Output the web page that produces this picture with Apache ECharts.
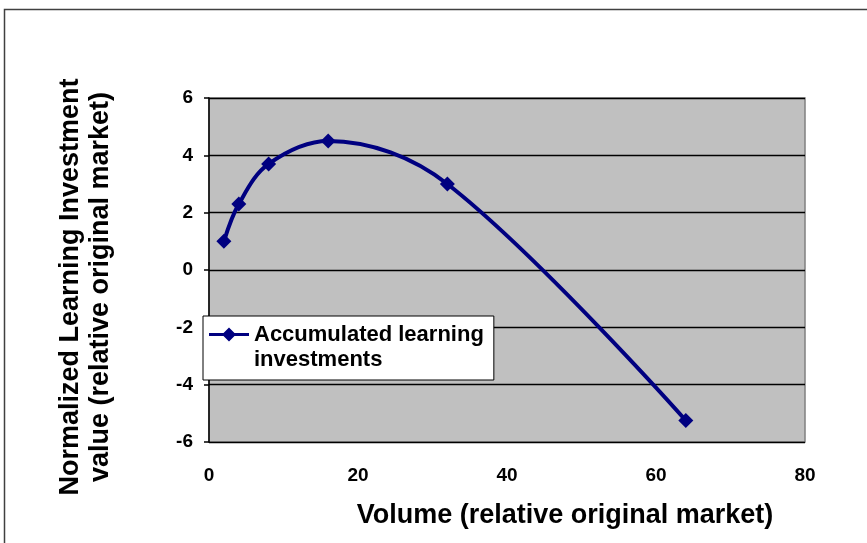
<!DOCTYPE html>
<html>
<head>
<meta charset="utf-8">
<script src="https://cdn.jsdelivr.net/npm/echarts@6/dist/echarts.min.js"></script>
<style>html,body{margin:0;padding:0;background:#fff}#c{width:867px;height:543px}</style>
</head>
<body>
<div id="c"></div>
<script>
const volume = [2, 4, 8, 16, 32, 64];
const investment = [1.0, 2.3, 3.7, 4.5, 3.0, -5.25];
const seriesName = 'Accumulated learning\ninvestments';
const xTicks = [0, 20, 40, 60, 80];
const yTicks = [-6, -4, -2, 0, 2, 4, 6];
const xTitle = 'Volume (relative original market)';
const yTitle = 'Normalized Learning Investment\nvalue (relative original market)';

const FONT = '"Liberation Sans", Arial, sans-serif';
// legend icon: line + diamond aligned with the first text line
const legendIcon = 'path://M20,0L27,7L20,14L13,7Z M0,5.5L40,5.5L40,8.5L0,8.5Z M20,38.99L20.01,39L20,39Z';
const chart = echarts.init(document.getElementById('c'));
chart.setOption({
  animation: false,
  backgroundColor: '#fff',
  grid: {left: 209, right: 62, top: 98, bottom: 101, show: true,
         backgroundColor: '#C0C0C0', borderColor: '#808080', borderWidth: 1.5},
  xAxis: {type: 'value', min: xTicks[0], max: xTicks[xTicks.length-1], interval: 20,
    axisLine: {show: false}, axisTick: {show: false}, splitLine: {show: false},
    axisLabel: {margin: 24, color: '#000', fontSize: 19, fontWeight: 'bold', fontFamily: FONT}},
  yAxis: {type: 'value', min: yTicks[0], max: yTicks[yTicks.length-1], interval: 2,
    axisLine: {show: true, lineStyle: {color: '#000', width: 1.5}},
    axisTick: {show: true, length: 5, lineStyle: {color: '#000', width: 1.5}},
    splitLine: {show: true, lineStyle: {color: '#000', width: 1.3}},
    axisLabel: {margin: 16, color: '#000', fontSize: 19, fontWeight: 'bold', fontFamily: FONT}},
  legend: {left: 203, top: 316, orient: 'vertical', backgroundColor: '#fff',
    borderColor: '#000', borderWidth: 1, borderRadius: 0, padding: [6, 10, 8, 6],
    itemWidth: 40, itemHeight: 39,
    itemStyle: {borderWidth: 0, color: '#000080'},
    textStyle: {color: '#000', fontSize: 22, fontWeight: 'bold', fontFamily: FONT, lineHeight: 25},
    data: [{name: seriesName, icon: legendIcon}]},
  graphic: [
    {type: 'rect', shape: {x: 4.5, y: 9.5, width: 900, height: 600},
     style: {fill: 'none', stroke: '#404040', lineWidth: 1.5}, silent: true, z: -1},
    {type: 'text', x: 565, y: 516, style: {text: xTitle, align: 'center', verticalAlign: 'middle',
      textAlign: 'center', textVerticalAlign: 'middle', fill: '#000',
      fontSize: 27, fontWeight: 'bold', fontFamily: FONT}},
    {type: 'text', x: 86, y: 287, rotation: Math.PI/2, style: {text: yTitle, align: 'center',
      verticalAlign: 'middle', textAlign: 'center', textVerticalAlign: 'middle', fill: '#000',
      lineHeight: 30, fontSize: 27, fontWeight: 'bold', fontFamily: FONT}}
  ],
  series: [{
    name: seriesName, type: 'line', smooth: 0.35,
    data: volume.map((v, i) => [v, investment[i]]),
    symbol: 'diamond', symbolSize: 15,
    lineStyle: {color: '#000080', width: 4},
    itemStyle: {color: '#000080'}
  }]
});
</script>
</body>
</html>
